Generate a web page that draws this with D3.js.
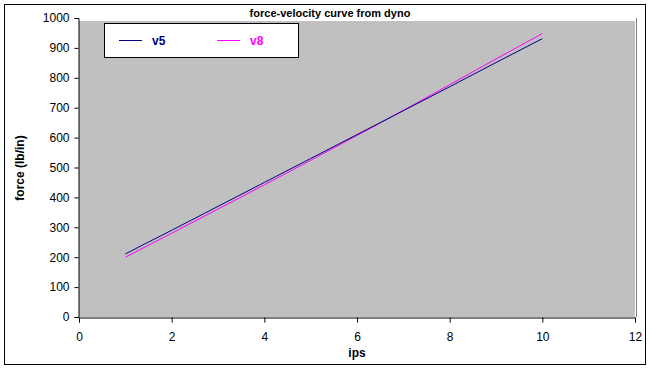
<!DOCTYPE html>
<html>
<head>
<meta charset="utf-8">
<script src="https://cdn.jsdelivr.net/npm/d3@7"></script>
<style>
  body { margin: 0; background: #fff; }
  svg text { font-family: "Liberation Sans", Arial, sans-serif; }
</style>
</head>
<body>
<div id="graf"></div>
<script>
const ips = [1, 2, 3, 4, 5, 6, 7, 8, 9, 10]
const v5 = [211, 290, 370, 450, 530, 610, 690, 770, 851, 931]
const v8 = [200, 280, 361, 442, 524, 607, 691, 777, 863, 948]
const xTicks = [0, 2, 4, 6, 8, 10, 12]
const yTicks = [0, 100, 200, 300, 400, 500, 600, 700, 800, 900, 1000]

const anchoTotal = 650
const altoTotal = 369

const svg = d3.select("#graf").append("svg")
    .attr("width", anchoTotal).attr("height", altoTotal)

// marco exterior
svg.append("rect").attr("x", 4.5).attr("y", 4.5)
    .attr("width", 641).attr("height", 360)
    .attr("fill", "#fff").attr("stroke", "#000")

const x = d3.scaleLinear().domain([0, 12]).range([79, 635])
const y = d3.scaleLinear().domain([0, 1000]).range([317, 18])

// area de trazado
svg.append("rect").attr("x", x(0)).attr("y", 21)
    .attr("width", x(12) - x(0)).attr("height", y(0) - 21)
    .attr("fill", "#c0c0c0")
svg.append("line").attr("x1", x(12) + 1.5).attr("x2", x(12) + 1.5)
    .attr("y1", 18).attr("y2", y(0))
    .attr("stroke", "#808080")

// ejes
const ejeX = svg.append("g").attr("transform", `translate(0, ${y(0) + 0.5})`)
    .call(d3.axisBottom(x).tickValues(xTicks).tickFormat(d3.format("d")).tickSize(5).tickPadding(10))
const ejeY = svg.append("g").attr("transform", `translate(${x(0) - 0.5}, 0)`)
    .call(d3.axisLeft(y).tickValues(yTicks).tickFormat(d3.format("d")).tickSize(4).tickPadding(5))
;[ejeX, ejeY].forEach(e => {
    e.select(".domain").attr("stroke", "#000")
    e.selectAll(".tick line").attr("stroke", "#000")
    e.selectAll(".tick text").attr("font-size", 12).attr("fill", "#000")
        .attr("font-family", "'Liberation Sans', Arial, sans-serif")
})

// series
const linea = vals => d3.line()
    .x((d, i) => x(ips[i]))
    .y(d => y(d))(vals)
svg.append("path").attr("d", linea(v8)).attr("fill", "none")
    .attr("stroke", "#ff00ff").attr("stroke-width", 1)
svg.append("path").attr("d", linea(v5)).attr("fill", "none")
    .attr("stroke", "#000080").attr("stroke-width", 1)

// titulos
svg.append("text").attr("x", 330).attr("y", 17).attr("text-anchor", "middle")
    .attr("font-size", 11).attr("font-weight", "bold").text("force-velocity curve from dyno")
svg.append("text").attr("x", x(6)).attr("y", 357).attr("text-anchor", "middle")
    .attr("font-size", 12).attr("font-weight", "bold").text("ips")
svg.append("text").attr("transform", "translate(24, 168) rotate(-90)")
    .attr("text-anchor", "middle")
    .attr("font-size", 12).attr("font-weight", "bold").text("force (lb/in)")

// leyenda
const leyenda = svg.append("g")
leyenda.append("rect").attr("x", 104.5).attr("y", 23.5)
    .attr("width", 194).attr("height", 34)
    .attr("fill", "#fff").attr("stroke", "#000")
const series = [
    { nombre: "v5", color: "#000080", x: 119 },
    { nombre: "v8", color: "#ff00ff", x: 217 }
]
series.forEach(s => {
    leyenda.append("line").attr("x1", s.x).attr("x2", s.x + 23)
        .attr("y1", 40.5).attr("y2", 40.5).attr("stroke", s.color)
    leyenda.append("text").attr("x", s.x + 33).attr("y", 45)
        .attr("font-size", 12).attr("font-weight", "bold")
        .attr("fill", s.color).text(s.nombre)
})
</script>
</body>
</html>
